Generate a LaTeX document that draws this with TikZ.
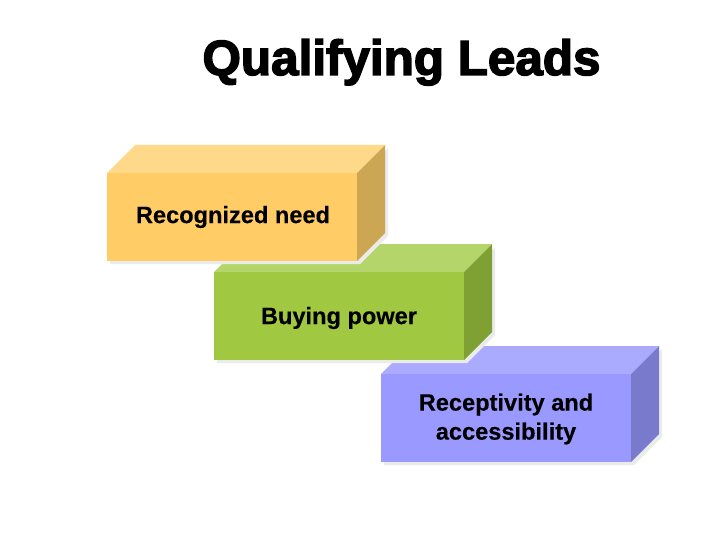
\documentclass[tikz,border=0pt]{standalone}
\usepackage{fontspec}
\setmainfont{Liberation Sans}[BoldFeatures={FakeBold=0.3}]
\newfontfamily\headfont{Liberation Sans}[BoldFeatures={FakeBold=3}]
\definecolor{needFront}{RGB}{255,204,102}
\definecolor{needTop}{RGB}{255,217,138}
\definecolor{needSide}{RGB}{204,166,82}
\definecolor{powerFront}{RGB}{160,200,64}
\definecolor{powerTop}{RGB}{180,213,106}
\definecolor{powerSide}{RGB}{127,160,51}
\definecolor{accessFront}{RGB}{153,153,255}
\definecolor{accessTop}{RGB}{170,170,255}
\definecolor{accessSide}{RGB}{122,122,204}
\newcommand{\leadbox}[3]{%
\fill[black!8] (#1+3,#2+3) -- ++(250,0) -- ++(28,-28) -- ++(0,88) -- ++(-28,28) -- ++(-250,0) -- cycle;
\fill[#3Front] (#1,#2) rectangle ++(250,88);
\fill[#3Top] (#1,#2) -- ++(28,-28) -- ++(250,0) -- ++(-28,28) -- cycle;
\fill[#3Side] (#1+250,#2) -- ++(28,-28) -- ++(0,88) -- ++(-28,28) -- cycle;}

\begin{document}
\begin{tikzpicture}[x=1pt,y=-1pt,
  lbl/.style={font=\bfseries\fontsize{23.6}{29}\selectfont, align=center, inner sep=0pt}]
\useasboundingbox (0,0) rectangle (720,540);
\leadbox{381}{374}{access}
\leadbox{214}{272}{power}
\leadbox{107}{173}{need}
\node[anchor=base, inner sep=0pt, font=\headfont\bfseries\fontsize{49.4}{55}\selectfont] (title) at (401.5,75) {Qualifying Leads};
\node[lbl] (need) at (233,217) {Recognized need};
\node[lbl] (power) at (339,318) {Buying power};
\node[lbl] (access) at (506,419) {Receptivity and\\accessibility};
\end{tikzpicture}
\end{document}
